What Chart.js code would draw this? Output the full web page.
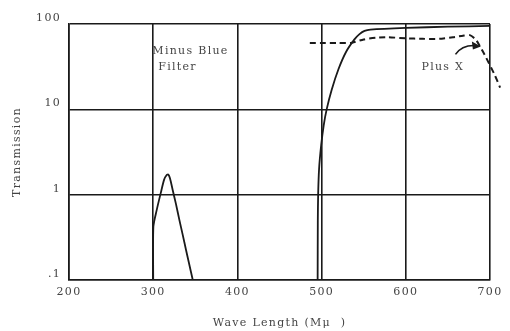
<!DOCTYPE html>
<html>
<head>
<meta charset="utf-8">
<title>Minus Blue Filter / Plus X</title>
<script src="https://cdn.jsdelivr.net/npm/chart.js"></script>
<style>
  body { margin: 0; background: #fff; }
  #wrap { width: 510px; height: 331px; }
</style>
</head>
<body>
<div id="wrap"><canvas id="chart" width="510" height="331"></canvas></div>
<script>
// wave length (m\u03bc) and transmission values
const uvBandWl = [300, 300.2, 304, 309, 313, 316, 318, 320, 323, 327, 331, 335, 339, 343, 347];
const uvBandT  = [0.1, 0.42, 0.65, 1.05, 1.5, 1.7, 1.72, 1.55, 1.15, 0.78, 0.51, 0.34, 0.225, 0.15, 0.1];

const visBandWl = [495.3, 495.5, 495.9, 497, 499.5, 502.5, 506, 512, 520, 529, 539, 545, 551, 558, 600, 650, 700];
const visBandT  = [0.1, 0.5, 1, 2, 3.8, 6.5, 10, 17, 29.5, 47, 66, 76, 83, 86, 90, 93, 95];

// the Plus X curve runs a little past the 700 edge in the original
const plusXWl = [486, 500, 520, 535, 550, 565, 578, 600, 620, 640, 656, 668, 676, 683, 688, 695, 705, 712];
const plusXT  = [60, 60, 60, 60, 66, 69, 70, 68, 67, 67, 70, 73, 74, 66, 55, 41, 26, 18];

const xTicks = [200, 300, 400, 500, 600, 700];
const yTicks = [0.1, 1, 10, 100];
const yTickLabels = ['.1', '1', '10', '100'];

const ink = '#1a1a1a';
const textGrey = '#444';
const serif = '"DejaVu Serif", "Liberation Serif", serif';

function pts(xs, ys) {
    return xs.map((x, i) => ({ x: x, y: ys[i] }));
}

const spacing = {
    id: 'spacing',
    beforeDraw(chart) {
        chart.ctx.letterSpacing = '1.3px';
    }
};

const notes = {
    id: 'notes',
    afterDatasetsDraw(chart) {
        const { ctx, scales: { x, y } } = chart;
        ctx.save();
        ctx.letterSpacing = '1.3px';
        ctx.fillStyle = textGrey;
        ctx.font = '11px ' + serif;
        ctx.textBaseline = 'middle';
        ctx.textAlign = 'left';
        ctx.fillText('Minus Blue', x.getPixelForValue(299), y.getPixelForValue(48));
        ctx.fillText('Filter', x.getPixelForValue(306), y.getPixelForValue(31));
        ctx.textAlign = 'center';
        ctx.fillText('Plus X', x.getPixelForValue(644), y.getPixelForValue(31));

        // curved arrow pointing at the Plus X curve
        const x0 = x.getPixelForValue(659), y0 = y.getPixelForValue(44);
        const x1 = x.getPixelForValue(688), y1 = y.getPixelForValue(56);
        ctx.strokeStyle = ink;
        ctx.fillStyle = ink;
        ctx.lineWidth = 1.6;
        ctx.beginPath();
        ctx.moveTo(x0, y0);
        ctx.quadraticCurveTo(x0 + 6, y0 - 9, x1 - 6, y1);
        ctx.stroke();
        ctx.beginPath();
        ctx.moveTo(x1 + 1, y1 + 1);
        ctx.lineTo(x1 - 8, y1 - 4);
        ctx.lineTo(x1 - 7, y1 + 4);
        ctx.closePath();
        ctx.fill();
        ctx.restore();
    }
};

const solid = {
    borderColor: ink,
    borderWidth: 1.8,
    pointRadius: 0,
    tension: 0.25,
    fill: false
};

new Chart(document.getElementById('chart'), {
    type: 'line',
    data: {
        datasets: [
            { label: 'Minus Blue Filter', data: pts(uvBandWl, uvBandT), ...solid },
            { label: 'Minus Blue Filter (visible)', data: pts(visBandWl, visBandT), ...solid },
            {
                label: 'Plus X',
                data: pts(plusXWl, plusXT),
                borderColor: ink,
                borderWidth: 2,
                borderDash: [6, 4],
                pointRadius: 0,
                tension: 0.2,
                clip: false
            }
        ]
    },
    options: {
        responsive: false,
        animation: false,
        layout: { padding: { top: 24, right: 20, left: 0, bottom: 0 } },
        plugins: {
            legend: { display: false },
            tooltip: { enabled: false }
        },
        scales: {
            x: {
                type: 'linear',
                // range set here rather than min/max so the dashed tail past 700 still gets drawn
                afterDataLimits: s => { s.min = 200; s.max = 700; },
                afterBuildTicks: s => { s.min = 200; s.max = 700; s.ticks = xTicks.map(v => ({ value: v })); },
                afterFit: s => { s.height = 51; },
                grid: { color: ink, lineWidth: 1.6, drawTicks: false },
                border: { color: ink, width: 1.6 },
                ticks: {
                    padding: 6,
                    color: textGrey,
                    font: { family: serif, size: 11 },
                    maxRotation: 0
                },
                title: {
                    display: true,
                    text: 'Wave Length (M\u03bc  )',
                    color: textGrey,
                    font: { family: serif, size: 11 },
                    padding: { top: 0, bottom: 1.5 }
                }
            },
            y: {
                type: 'logarithmic',
                min: 0.1,
                max: 100,
                afterBuildTicks: s => { s.ticks = yTicks.map(v => ({ value: v })); },
                afterFit: s => { s.width = 69; },
                grid: { color: ink, lineWidth: 1.6, drawTicks: false },
                border: { color: ink, width: 1.6 },
                ticks: {
                    padding: 8,
                    labelOffset: -6,
                    color: textGrey,
                    font: { family: serif, size: 11 },
                    callback: v => yTickLabels[yTicks.indexOf(v)]
                },
                title: {
                    display: true,
                    text: 'Transmission',
                    color: textGrey,
                    font: { family: serif, size: 11 },
                    padding: { top: 11, bottom: 0 }
                }
            }
        }
    },
    plugins: [spacing, notes]
});
</script>
</body>
</html>
